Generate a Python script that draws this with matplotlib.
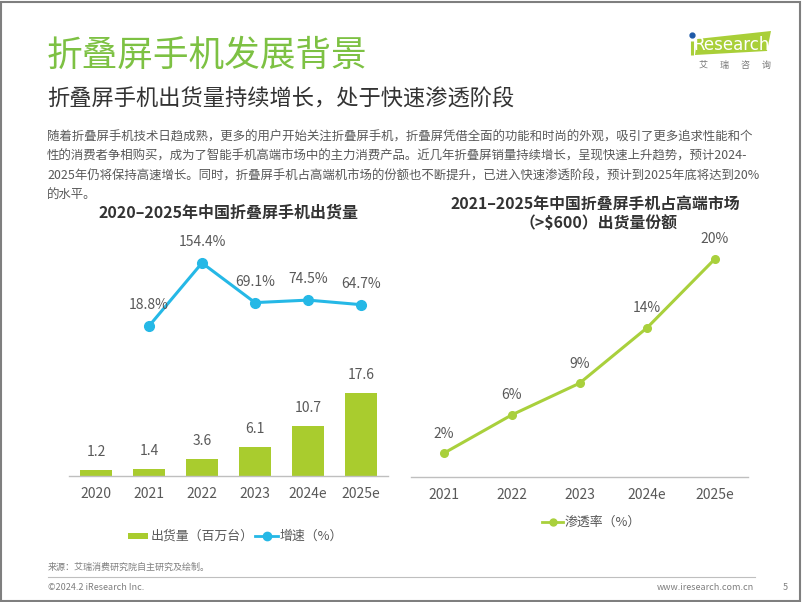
import matplotlib
matplotlib.use("Agg")
import matplotlib.pyplot as plt
from matplotlib.patches import Rectangle, Polygon
from matplotlib.lines import Line2D

plt.rcParams['font.family'] = ['Noto Sans CJK SC', 'DejaVu Sans']

# ---- data ----
years_left = ["2020", "2021", "2022", "2023", "2024e", "2025e"]
shipments = [1.2, 1.4, 3.6, 6.1, 10.7, 17.6]
growth_years_idx = [1, 2, 3, 4, 5]
growth = [18.8, 154.4, 69.1, 74.5, 64.7]

years_right = ["2021", "2022", "2023", "2024e", "2025e"]
share = [2.2, 5.7, 8.6, 13.7, 20.0]

BAR_C = "#a9cc2e"
CYAN = "#25b8e6"
GREEN_L = "#a9d03c"
TXT = "#595959"
DARK = "#333333"

W, H = 802, 602
fig = plt.figure(figsize=(W / 100, H / 100), dpi=100)

def fx(x):
    return x / W

def fy(y):
    return 1 - y / H

# page border
fig.add_artist(Rectangle((0.001, 0.001), 0.997, 0.996, transform=fig.transFigure,
                         fill=False, edgecolor="#7f7f7f", linewidth=1.5))

# header
fig.text(fx(47), fy(56), "折叠屏手机发展背景", fontsize=25.7, color="#7dc143",
         va="center", ha="left", fontweight="light")
fig.text(fx(47), fy(99), "折叠屏手机出货量持续增长，处于快速渗透阶段", fontsize=16.0,
         color=DARK, va="center", ha="left")

body = [
    "随着折叠屏手机技术日趋成熟，更多的用户开始关注折叠屏手机，折叠屏凭借全面的功能和时尚的外观，吸引了更多追求性能和个",
    "性的消费者争相购买，成为了智能手机高端市场中的主力消费产品。近几年折叠屏销量持续增长，呈现快速上升趋势，预计2024-",
    "2025年仍将保持高速增长。同时，折叠屏手机占高端机市场的份额也不断提升，已进入快速渗透阶段，预计到2025年底将达到20%",
    "的水平。",
]
for i, line in enumerate(body):
    fig.text(fx(47), fy(137 + i * 19.5), line, fontsize=8.95, color=TXT,
             va="center", ha="left")

# logo
poly = Polygon([[fx(697), fy(39)], [fx(771), fy(31)], [fx(767), fy(51)], [fx(695), fy(55)]],
               closed=True, transform=fig.transFigure, facecolor="#a9cf38", edgecolor="none")
fig.add_artist(poly)
fig.add_artist(Line2D([fx(692), fx(692)], [fy(41), fy(55)], color="#a9cf38", linewidth=2.2,
                      solid_capstyle="butt", transform=fig.transFigure))
fig.add_artist(Line2D([fx(692)], [fy(35)], marker="o", markersize=3.5, color="#1e5aa8",
                      transform=fig.transFigure))
fig.text(fx(732), fy(45), "Research", fontsize=12, color="white", ha="center", va="center",
         family="Liberation Sans Narrow")
fig.text(fx(735), fy(65), "艾      瑞      咨      询", fontsize=6.5, color="#777777",
         ha="center", va="center")

# ---- left chart ----
axL = fig.add_axes([fx(69), fy(476), fx(388) - fx(69), (476 - 250) / H])
x = list(range(len(years_left)))
axL.bar(x, shipments, width=0.62, color=BAR_C, zorder=2)
axL.set_xlim(-0.51, 5.51)
axL.set_ylim(0, 226 / 4.7)
for xi, v in zip(x, shipments):
    axL.annotate(f"{v:.1f}", (xi, v), xytext=(0, 8), textcoords="offset points",
                 ha="center", va="bottom", fontsize=10, color=TXT)
axL.set_xticks(x)
axL.set_xticklabels(years_left, fontsize=10, color=TXT)
axL.tick_params(axis="x", length=0, pad=8)
axL.set_yticks([])
for s in ["top", "right", "left"]:
    axL.spines[s].set_visible(False)
axL.spines["bottom"].set_color("#bfbfbf")
axL.spines["bottom"].set_linewidth(1)
axL.patch.set_alpha(0)

axL2 = axL.twinx()
axL2.plot(growth_years_idx, growth, color=CYAN, linewidth=2.2, marker="o", markersize=7,
          zorder=3)
axL2.set_ylim(18.8 - 150 / 0.465, 18.8 - 150 / 0.465 + 226 / 0.465)
for xi, v in zip(growth_years_idx, growth):
    axL2.annotate(f"{v:.1f}%", (xi, v), xytext=(0, 10), textcoords="offset points",
                  ha="center", va="bottom", fontsize=10, color=TXT)
axL2.set_yticks([])
for s in ["top", "right", "left", "bottom"]:
    axL2.spines[s].set_visible(False)

fig.text(fx(229), fy(213), "2020–2025年中国折叠屏手机出货量", fontsize=11.5, fontweight="bold",
         color=DARK, ha="center", va="center")

# left legend
fig.add_artist(Rectangle((fx(128), fy(539)), fx(148) - fx(128), 6 / H, transform=fig.transFigure,
                         facecolor=BAR_C, edgecolor="none"))
fig.text(fx(151), fy(536), "出货量（百万台）", fontsize=9.3, color=TXT, ha="left", va="center")
fig.add_artist(Line2D([fx(255), fx(278)], [fy(536), fy(536)], color=CYAN, linewidth=2,
                      transform=fig.transFigure))
fig.add_artist(Line2D([fx(266.5)], [fy(536)], color=CYAN, marker="o", markersize=6,
                      transform=fig.transFigure))
fig.text(fx(280), fy(536), "增速（%）", fontsize=9.3, color=TXT, ha="left", va="center")

# ---- right chart ----
axR = fig.add_axes([fx(411), fy(477), fx(748) - fx(411), 227 / H])
xr = list(range(len(years_right)))
axR.plot(xr, share, color=GREEN_L, linewidth=2.2, marker="o", markersize=5.5)
axR.set_xlim(-0.49, 4.49)
axR.set_ylim(0, 227 / 10.9)
for xi, v in zip(xr, share):
    axR.annotate(f"{v:.0f}%", (xi, v), xytext=(0, 9), textcoords="offset points",
                 ha="center", va="bottom", fontsize=10, color=TXT, annotation_clip=False)
axR.set_xticks(xr)
axR.set_xticklabels(years_right, fontsize=10, color=TXT)
axR.tick_params(axis="x", length=0, pad=8)
axR.set_yticks([])
for s in ["top", "right", "left"]:
    axR.spines[s].set_visible(False)
axR.spines["bottom"].set_color("#bfbfbf")
axR.spines["bottom"].set_linewidth(1)
axR.patch.set_alpha(0)

fig.text(fx(595), fy(204), "2021–2025年中国折叠屏手机占高端市场", fontsize=11.4, fontweight="bold",
         color=DARK, ha="center", va="center")
fig.text(fx(599), fy(223), "（>$600）出货量份额", fontsize=11.4, fontweight="bold",
         color=DARK, ha="center", va="center")

fig.add_artist(Line2D([fx(542), fx(563)], [fy(522), fy(522)], color=GREEN_L, linewidth=2,
                      transform=fig.transFigure))
fig.add_artist(Line2D([fx(552.5)], [fy(522)], color=GREEN_L, marker="o", markersize=5,
                      transform=fig.transFigure))
fig.text(fx(565), fy(522), "渗透率（%）", fontsize=9.3, color=TXT, ha="left", va="center")

# ---- footer ----
fig.text(fx(48), fy(567), "来源：艾瑞消费研究院自主研究及绘制。", fontsize=6.5, color="#7f7f7f",
         ha="left", va="center")
fig.add_artist(Line2D([fx(48), fx(755)], [fy(577), fy(577)], color="#bfbfbf", linewidth=0.8,
                      transform=fig.transFigure))
fig.text(fx(48), fy(588), "©2024.2 iResearch Inc.", fontsize=6.5, color="#7f7f7f",
         ha="left", va="center")
fig.text(fx(754), fy(588), "www.iresearch.com.cn", fontsize=6.5, color="#7f7f7f",
         ha="right", va="center")
fig.text(fx(785), fy(588), "5", fontsize=6.5, color="#7f7f7f", ha="center", va="center")

fig.savefig("out.png", dpi=100)
